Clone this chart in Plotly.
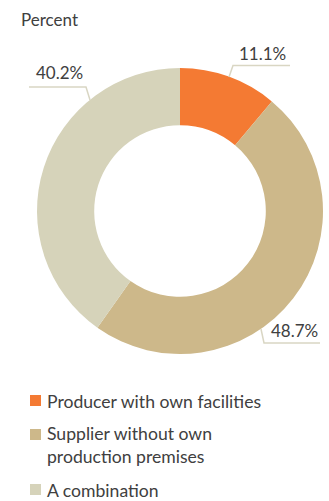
import plotly.graph_objects as go

categories = ["Producer with own facilities",
              "Supplier without own production premises",
              "A combination"]
legend_text = ["Producer with own facilities",
               "Supplier without own<br>production premises",
               "A combination"]
values = [11.1, 48.7, 40.2]
colors = ["#F47A33", "#CDB88A", "#D6D3BA"]

W, H = 329, 501
FONT = "Lato"
TXT = "#404040"
LINE = "#D9D6C3"

def px(x):
    return x / W

def py(y):
    return 1 - y / H

fig = go.Figure()
fig.add_trace(go.Pie(
    labels=categories, values=values, hole=0.6, sort=False,
    direction="clockwise", rotation=0,
    marker=dict(colors=colors, line=dict(width=0)),
    textinfo="none", hoverinfo="label+percent", showlegend=False,
    domain=dict(x=[px(37), px(323)], y=[py(354), py(68)]),
))

# outside labels with leader lines: (text centre x, y, polyline points)
label_layout = [
    (262, 53, [(229, 77), (233, 65.5), (290, 65.5)]),
    (294, 330, [(261, 329), (264, 343), (320, 343)]),
    (59, 73, [(90, 100), (86, 87), (29, 87)]),
]
for v, (tx, ty, pts) in zip(values, label_layout):
    fig.add_annotation(x=px(tx), y=py(ty), xref="paper", yref="paper",
                       text=f"{v:.1f}%", showarrow=False,
                       font=dict(family=FONT, size=17, color=TXT),
                       xanchor="center", yanchor="middle")
    path = "M " + " L ".join(f"{px(a)},{py(b)}" for a, b in pts)
    fig.add_shape(type="path", path=path, xref="paper", yref="paper",
                  line=dict(color=LINE, width=1.5))

fig.add_annotation(x=px(19), y=py(20), xref="paper", yref="paper",
                   text="Percent", showarrow=False, xanchor="left",
                   yanchor="middle", font=dict(family=FONT, size=17, color=TXT))

# legend: swatch centre y, text box centre y
legend_rows = [(400.5, 401), (434.5, 445), (489.5, 490)]
for txt, col, (sy, ty) in zip(legend_text, colors, legend_rows):
    fig.add_shape(type="rect", xref="paper", yref="paper",
                  x0=px(30), x1=px(41), y0=py(sy + 5.5), y1=py(sy - 5.5),
                  fillcolor=col, line=dict(width=0))
    fig.add_annotation(x=px(45), y=py(ty), xref="paper", yref="paper",
                       text=txt, showarrow=False, xanchor="left",
                       yanchor="middle", align="left",
                       font=dict(family=FONT, size=17.6, color=TXT))

fig.update_layout(width=W, height=H, margin=dict(l=0, r=0, t=0, b=0),
                  paper_bgcolor="white", plot_bgcolor="white")
fig.write_html("out.html")
